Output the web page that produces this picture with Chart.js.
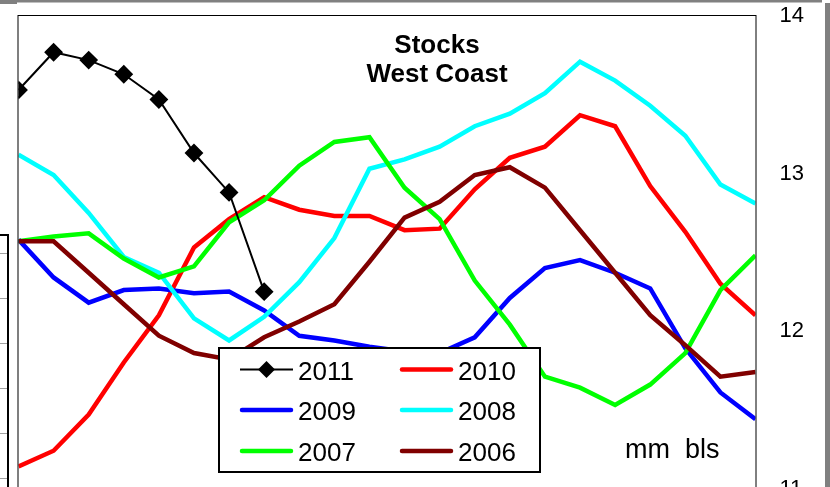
<!DOCTYPE html>
<html>
<head>
<meta charset="utf-8">
<script src="https://cdn.jsdelivr.net/npm/chart.js@4"></script>
<style>
  html, body { margin: 0; padding: 0; background: #fff; overflow: hidden; }
  canvas { display: block; }
</style>
</head>
<body>
<canvas id="chart" width="830" height="530"></canvas>
<script>
// weekly stock levels, mm bls
const weeks = [1, 2, 3, 4, 5, 6, 7, 8, 9, 10, 11, 12, 13, 14, 15, 16, 17, 18, 19, 20, 21, 22];
const s2011 = [13.53, 13.77, 13.72, 13.63, 13.47, 13.13, 12.88, 12.25];
const s2010 = [11.14, 11.24, 11.47, 11.80, 12.10, 12.53, 12.71, 12.85, 12.77, 12.73, 12.73, 12.64, 12.65, 12.90, 13.10, 13.17, 13.37, 13.30, 12.92, 12.63, 12.30, 12.10];
const s2009 = [12.58, 12.34, 12.18, 12.26, 12.27, 12.24, 12.25, 12.13, 11.97, 11.94, 11.90, 11.87, 11.86, 11.96, 12.21, 12.40, 12.45, 12.37, 12.27, 11.89, 11.61, 11.44];
const s2008 = [13.12, 12.99, 12.75, 12.47, 12.37, 12.08, 11.94, 12.09, 12.31, 12.59, 13.03, 13.09, 13.17, 13.30, 13.38, 13.51, 13.71, 13.59, 13.43, 13.24, 12.93, 12.81];
const s2007 = [12.57, 12.60, 12.62, 12.46, 12.34, 12.41, 12.69, 12.83, 13.05, 13.20, 13.23, 12.91, 12.71, 12.32, 12.04, 11.71, 11.64, 11.53, 11.66, 11.86, 12.26, 12.48];
const s2006 = [12.57, 12.57, 12.37, 12.17, 11.97, 11.86, 11.82, 11.96, 12.06, 12.17, 12.44, 12.72, 12.82, 12.99, 13.04, 12.91, 12.64, 12.37, 12.10, 11.91, 11.71, 11.74];

const years = ["2011", "2010", "2009", "2008", "2007", "2006"];
const colors = ["#000000", "#ff0000", "#0000ff", "#00ffff", "#00ff00", "#800000"];
const series = [s2011, s2010, s2009, s2008, s2007, s2006];
const drawOrder = [0, 5, 4, 3, 2, 1]; // lower = on top

const FONT = "'Liberation Sans', Arial, sans-serif";

const datasets = series.map((d, i) => ({
  label: years[i],
  data: d,
  borderColor: colors[i],
  backgroundColor: colors[i],
  borderWidth: i === 0 ? 2 : 4.5,
  pointRadius: i === 0 ? 8 : 0,
  pointHoverRadius: i === 0 ? 8 : 0,
  pointStyle: "rectRot",
  tension: 0,
  clip: 0,
  order: drawOrder[i],
}));

const decorPlugin = {
  id: "decor",
  beforeDraw(chart) {
    const ctx = chart.ctx;
    ctx.save();
    ctx.fillStyle = "#fff";
    ctx.fillRect(0, 0, chart.width, chart.height);
    // outer frame bits
    ctx.fillStyle = "#808080";
    ctx.fillRect(0, 0, 822, 2.5);
    ctx.fillRect(0, 0, 17, 4);
    ctx.fillRect(825, 3, 5, chart.height);
    // piece of neighbouring chart on the left
    ctx.strokeStyle = "#a0a0a0";
    ctx.lineWidth = 1;
    [253, 298, 343, 388, 433, 478].forEach((y) => {
      ctx.beginPath(); ctx.moveTo(0, y + 0.5); ctx.lineTo(7, y + 0.5); ctx.stroke();
    });
    ctx.strokeStyle = "#000";
    ctx.lineWidth = 2;
    ctx.beginPath(); ctx.moveTo(0, 235); ctx.lineTo(8, 235); ctx.lineTo(8, chart.height); ctx.stroke();
    ctx.restore();
  },
  afterDatasetsDraw(chart) {
    const ctx = chart.ctx;
    const a = chart.chartArea;
    ctx.save();
    // plot frame
    ctx.strokeStyle = "#000";
    ctx.lineWidth = 1;
    ctx.strokeRect(a.left - 0.5, a.top - 0.5, a.right - a.left + 1, a.bottom - a.top + 20);

    // title
    ctx.fillStyle = "#000";
    ctx.textAlign = "center";
    ctx.textBaseline = "alphabetic";
    ctx.font = "bold 26px " + FONT;
    ctx.fillText("Stocks", 437, 52.5);
    ctx.fillText("West Coast", 437, 81.5);

    // unit note
    ctx.textAlign = "left";
    ctx.font = "27px " + FONT;
    ctx.fillText("mm  bls", 625, 458);

    // legend
    const box = { x: 219, y: 348, w: 321, h: 124 };
    ctx.fillStyle = "#fff";
    ctx.fillRect(box.x, box.y, box.w, box.h);
    ctx.strokeStyle = "#000";
    ctx.lineWidth = 2;
    ctx.strokeRect(box.x, box.y, box.w, box.h);
    const rowY = [369.5, 410, 451];
    const colX = [240, 400];
    ctx.font = "26px " + FONT;
    years.forEach((yr, i) => {
      const cx = colX[i % 2];
      const cy = rowY[Math.floor(i / 2)];
      ctx.strokeStyle = colors[i];
      ctx.lineWidth = i === 0 ? 2 : 4.5;
      ctx.lineCap = i === 0 ? "butt" : "round";
      ctx.beginPath();
      ctx.moveTo(cx + (i === 0 ? 0 : 2), cy);
      ctx.lineTo(cx + 53 - (i === 0 ? 0 : 2), cy);
      ctx.stroke();
      if (i === 0) {
        ctx.fillStyle = "#000";
        ctx.beginPath();
        ctx.moveTo(cx + 26.5, cy - 8.5);
        ctx.lineTo(cx + 35, cy);
        ctx.lineTo(cx + 26.5, cy + 8.5);
        ctx.lineTo(cx + 18, cy);
        ctx.closePath();
        ctx.fill();
      }
      ctx.fillStyle = "#000";
      ctx.textBaseline = "alphabetic";
      ctx.fillText(yr, cx + 58, cy + 10);
    });
    ctx.restore();
  },
};

new Chart(document.getElementById("chart"), {
  type: "line",
  data: { labels: weeks, datasets },
  options: {
    responsive: false,
    animation: false,
    events: [],
    layout: { padding: { left: 18.5, right: 0, top: 16, bottom: 41.5 } },
    plugins: { legend: { display: false }, tooltip: { enabled: false }, title: { display: false } },
    scales: {
      x: { type: "category", display: false, offset: false },
      y: {
        position: "right",
        min: 11,
        max: 14,
        afterFit: (s) => {
          s.width = 74.5;
          s.paddingTop = 0;
          s.paddingBottom = 0;
        },
        grid: { display: false, drawTicks: false },
        border: { display: false },
        ticks: {
          stepSize: 1,
          padding: 24,
          color: "#000",
          font: { family: FONT, size: 22 },
        },
      },
    },
  },
  plugins: [decorPlugin],
});
</script>
</body>
</html>
